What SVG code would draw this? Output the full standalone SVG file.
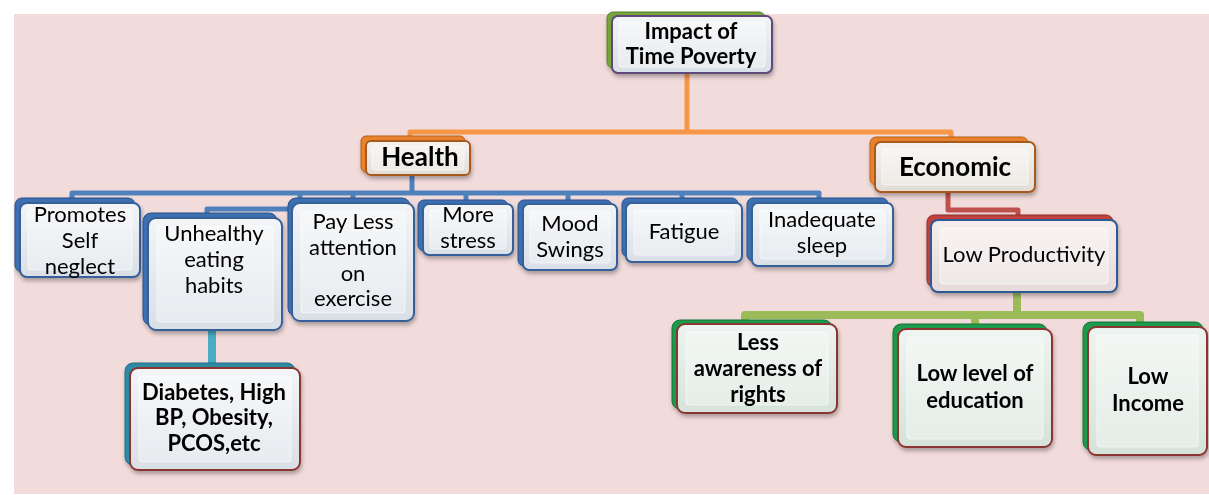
<svg xmlns="http://www.w3.org/2000/svg" width="1209" height="495" viewBox="0 0 1209 495">
<defs>
<linearGradient id="gFront" x1="0" y1="0" x2="0" y2="1">
<stop offset="0" stop-color="#F3F5F7"/><stop offset="1" stop-color="#D9DFE6"/>
</linearGradient>
<linearGradient id="gWarm" x1="0" y1="0" x2="0" y2="1">
<stop offset="0" stop-color="#F6F3F0"/><stop offset="1" stop-color="#E2DCD6"/>
</linearGradient>
<linearGradient id="gGreen" x1="0" y1="0" x2="0" y2="1">
<stop offset="0" stop-color="#EEF4F0"/><stop offset="1" stop-color="#D5E3DA"/>
</linearGradient>
<linearGradient id="gPink" x1="0" y1="0" x2="0" y2="1">
<stop offset="0" stop-color="#F5EDED"/><stop offset="1" stop-color="#E6DADA"/>
</linearGradient>
<filter id="sh" x="-10%" y="-10%" width="125%" height="130%">
<feDropShadow dx="1" dy="3" stdDeviation="2" flood-color="#000" flood-opacity="0.3"/>
</filter>
<style>
.t{font-family:Lato,"Open Sans",sans-serif;font-size:22px;fill:#000;text-anchor:middle}
.b{font-weight:bold;font-size:22px}
.inner{fill:#FFFFFF;fill-opacity:0.35;stroke:#FFFFFF;stroke-opacity:0.6;stroke-width:1}
.blueBack{fill:#3C6FB0;stroke:#2C5088;stroke-width:1}
.blueFront{fill:url(#gFront);stroke:#36609A;stroke-width:2}
.orBack{fill:#E9822F;stroke:#B5601A;stroke-width:1}
.orFront{fill:url(#gWarm);stroke:#A85A1A;stroke-width:2}
.grBack{fill:#1E9A4A;stroke:#15743A;stroke-width:1}
.grFront{fill:url(#gGreen);stroke:#8B3432;stroke-width:2}
.tealBack{fill:#2F8AA3;stroke:#246E83;stroke-width:1}
.redFront{fill:url(#gFront);stroke:#8B3432;stroke-width:2}
.redBack{fill:#C0403D;stroke:#8B2E2C;stroke-width:1}
.lpFront{fill:url(#gPink);stroke:#2E5A94;stroke-width:2}
.olBack{fill:#77A33A;stroke:#5C7F2C;stroke-width:1}
.puFront{fill:url(#gFront);stroke:#5F497A;stroke-width:2}
.c{fill:none;stroke-linejoin:round;stroke-linecap:round}
</style>
</defs>
<rect x="0" y="0" width="1209" height="495" fill="#FFFFFF"/>
<rect x="14" y="14" width="1195" height="480" fill="#F2DCDB"/>

<g id="connectors">
<path class="c" stroke="#F79646" stroke-width="5" d="M687,73 V132 M410,138 V132 H951 V138"/>
<path class="c" stroke="#4F81BD" stroke-width="5" d="M412,175 V193 M72,199 V193 H819 V199 M300,193 V209 H207 V214 M353,193 V199 M466,193 V201 M568,193 V201 M682,193 V199"/>
<path class="c" stroke="#4BACC6" stroke-width="8" stroke-linecap="butt" d="M212,330 V364"/>
<path class="c" stroke="#C0504D" stroke-width="5" d="M948,192 V210 H1018 V216"/>
<path class="c" stroke="#9BBB59" stroke-width="8" d="M1017,292 V315 M745,321 V315 H1140 V323 M975,315 V325"/>
</g>

<g id="n-impact" filter="url(#sh)">
<rect class="olBack" x="607" y="12" width="158" height="56" rx="6"/>
<rect class="puFront" x="612" y="16" width="160" height="57" rx="6"/>
<rect class="inner" x="619" y="22" width="146" height="45" rx="3"/>
<text class="t b" x="691" y="39">Impact of</text>
<text class="t b" x="691" y="64">Time Poverty</text>
</g>

<g id="n-health" filter="url(#sh)">
<rect class="orBack" x="361" y="136" width="104" height="36" rx="5"/>
<rect class="orFront" x="366" y="141" width="104" height="34" rx="5"/>
<rect class="inner" x="372" y="146" width="92" height="24" rx="3"/>
<text class="t b" style="font-size:26px" x="420" y="166">Health</text>
</g>

<g id="n-economic" filter="url(#sh)">
<rect class="orBack" x="870" y="137" width="158" height="48" rx="6"/>
<rect class="orFront" x="875" y="142" width="160" height="50" rx="6"/>
<rect class="inner" x="882" y="149" width="146" height="36" rx="3"/>
<text class="t b" style="font-size:26px" x="955" y="176">Economic</text>
</g>

<g id="n-promotes" filter="url(#sh)">
<rect class="blueBack" x="15" y="198" width="120" height="74" rx="7"/>
<rect class="blueFront" x="20" y="203" width="120" height="74" rx="7"/>
<rect class="inner" x="28" y="210" width="104" height="60" rx="3"/>
<text class="t" x="80" y="222">Promotes</text>
<text class="t" x="80" y="248">Self</text>
<text class="t" x="80" y="274">neglect</text>
</g>

<g id="n-unhealthy" filter="url(#sh)">
<rect class="blueBack" x="143" y="213" width="134" height="112" rx="8"/>
<rect class="blueFront" x="148" y="218" width="134" height="112" rx="8"/>
<rect class="inner" x="157" y="226" width="116" height="96" rx="3"/>
<text class="t" x="214" y="241">Unhealthy</text>
<text class="t" x="214" y="267">eating</text>
<text class="t" x="214" y="293">habits</text>
</g>

<g id="n-payless" filter="url(#sh)">
<rect class="blueBack" x="288" y="198" width="122" height="118" rx="8"/>
<rect class="blueFront" x="292" y="203" width="122" height="118" rx="8"/>
<rect class="inner" x="301" y="211" width="104" height="102" rx="3"/>
<text class="t" x="353" y="229">Pay Less</text>
<text class="t" x="353" y="255">attention</text>
<text class="t" x="353" y="281">on</text>
<text class="t" x="353" y="306">exercise</text>
</g>

<g id="n-stress" filter="url(#sh)">
<rect class="blueBack" x="418" y="200" width="90" height="51" rx="6"/>
<rect class="blueFront" x="423" y="204" width="90" height="51" rx="6"/>
<rect class="inner" x="430" y="210" width="76" height="39" rx="3"/>
<text class="t" x="468" y="222">More</text>
<text class="t" x="468" y="248">stress</text>
</g>

<g id="n-mood" filter="url(#sh)">
<rect class="blueBack" x="518" y="200" width="94" height="66" rx="6"/>
<rect class="blueFront" x="523" y="204" width="94" height="66" rx="6"/>
<rect class="inner" x="530" y="211" width="80" height="52" rx="3"/>
<text class="t" x="570" y="231">Mood</text>
<text class="t" x="570" y="257">Swings</text>
</g>

<g id="n-fatigue" filter="url(#sh)">
<rect class="blueBack" x="622" y="198" width="116" height="59" rx="6"/>
<rect class="blueFront" x="626" y="203" width="116" height="59" rx="6"/>
<rect class="inner" x="634" y="210" width="100" height="45" rx="3"/>
<text class="t" x="684" y="239">Fatigue</text>
</g>

<g id="n-inadequate" filter="url(#sh)">
<rect class="blueBack" x="747" y="198" width="141" height="63" rx="6"/>
<rect class="blueFront" x="752" y="203" width="141" height="63" rx="6"/>
<rect class="inner" x="760" y="210" width="125" height="49" rx="3"/>
<text class="t" x="822" y="227">Inadequate</text>
<text class="t" x="822" y="253">sleep</text>
</g>

<g id="n-diabetes" filter="url(#sh)">
<rect class="tealBack" x="125" y="363" width="170" height="102" rx="8"/>
<rect class="redFront" x="130" y="368" width="170" height="102" rx="8"/>
<rect class="inner" x="139" y="376" width="152" height="86" rx="3"/>
<text class="t b" x="214" y="400">Diabetes, High</text>
<text class="t b" x="214" y="425">BP, Obesity,</text>
<text class="t b" x="214" y="451">PCOS,etc</text>
</g>

<g id="n-lowprod" filter="url(#sh)">
<rect class="redBack" x="927" y="215" width="186" height="72" rx="7"/>
<rect class="lpFront" x="931" y="220" width="186" height="72" rx="7"/>
<rect class="inner" x="940" y="228" width="168" height="56" rx="3"/>
<text class="t" x="1024" y="262">Low Productivity</text>
</g>

<g id="n-less" filter="url(#sh)">
<rect class="grBack" x="672" y="320" width="160" height="89" rx="8"/>
<rect class="grFront" x="677" y="324" width="160" height="89" rx="8"/>
<rect class="inner" x="686" y="332" width="142" height="73" rx="3"/>
<text class="t b" x="758" y="350">Less</text>
<text class="t b" x="758" y="376">awareness of</text>
<text class="t b" x="758" y="402">rights</text>
</g>

<g id="n-lowedu" filter="url(#sh)">
<rect class="grBack" x="893" y="324" width="154" height="118" rx="8"/>
<rect class="grFront" x="898" y="329" width="154" height="118" rx="8"/>
<rect class="inner" x="907" y="337" width="136" height="102" rx="3"/>
<text class="t b" x="975" y="381">Low level of</text>
<text class="t b" x="975" y="408">education</text>
</g>

<g id="n-lowinc" filter="url(#sh)">
<rect class="grBack" x="1083" y="322" width="120" height="128" rx="8"/>
<rect class="grFront" x="1088" y="327" width="119" height="128" rx="8"/>
<rect class="inner" x="1097" y="335" width="101" height="112" rx="3"/>
<text class="t b" x="1148" y="384">Low</text>
<text class="t b" x="1148" y="411">Income</text>
</g>
</svg>
